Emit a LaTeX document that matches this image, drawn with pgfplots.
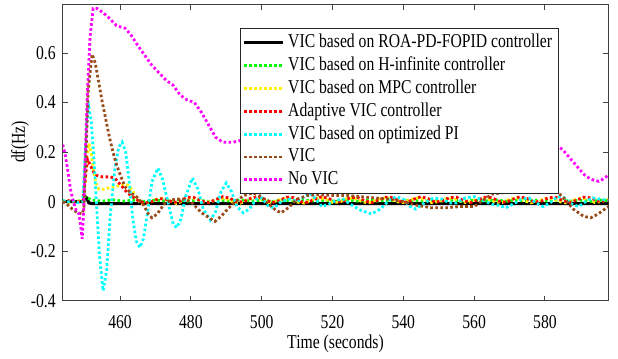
\documentclass[border=0pt]{standalone}
\usepackage{fontspec}
\setmainfont{Liberation Serif}[FakeStretch=0.8]
\usepackage{pgfplots}
\pgfplotsset{compat=1.18}
\definecolor{cgreen}{rgb}{0,1,0}
\definecolor{cyellow}{rgb}{1,0.95,0}
\definecolor{cred}{rgb}{1,0,0}
\definecolor{ccyan}{rgb}{0,1,1}
\definecolor{cbrown}{rgb}{0.6,0.29,0.1}
\definecolor{cmag}{rgb}{1,0,1}
\newcommand{\fs}{\fontsize{9.8}{11}\selectfont}
\begin{document}
\begin{tikzpicture}
\begin{axis}[name=ax,
  scale only axis, width=272.8pt, height=148pt,
  xmin=443.8, xmax=597.9, ymin=-0.4, ymax=0.795,
  xtick={460,480,500,520,540,560,580},
  xticklabels={460,480,500,520,540,560,580},
  ytick={-0.4,-0.2,0,0.2,0.4,0.6},
  yticklabels={{-0.4},{-0.2},{0},{0.2},{0.4},{0.6}},
  tick align=inside, major tick length=2.5pt,
  axis line style={black!75, line width=0.5pt},
  every tick/.style={black!75, line width=0.5pt},
  tick label style={font=\fs},
  xticklabel style={yshift=-4pt},
  xlabel={Time (seconds)}, ylabel={df(Hz)},
  label style={font=\fs},
  xlabel style={at={(axis description cs:0.5,-0.146)}, anchor=center},
  ylabel style={at={(axis description cs:-0.078,0.536)}, anchor=center},
  legend cell align=left,
  legend image code/.code={\draw[#1] (0cm,0cm) -- (0.67cm,0cm);},
  legend style={at={(axis description cs:0.3255,0.9224)}, anchor=north west,
    draw=black!85, line width=0.6pt, font=\fs, inner sep=1pt, row sep=-0.85pt},
  dotline/.style={line width=1.4pt, dash pattern=on 1.3pt off 1.2pt},
]
\addplot[black, line width=1.6pt] coordinates {
(443.8,0) (449.6,0) (450.0,0.018) (450.6,0.015) (451.2,-0.005) (452,-0.008) (597.9,-0.008)};
\addlegendentry{VIC based on ROA-PD-FOPID controller}
\addplot[cgreen, dotline] coordinates {
(443.8,0.003) (446,0.0) (448,0.004) (449.6,0.0) (450.2,0.022) (451,0.014) (452,0.006)
(455,0.002) (458,0.007) (461,0.002) (464,0.006) (467,0.001) (470,0.006) (473,0.002) (476,0.007)
(479,0.002) (482,0.006) (485,0.001) (488,0.006) (491,0.002) (494,0.007) (497,0.002) (500,0.006)
(503,0.001) (506,0.006) (509,0.002) (512,0.007) (515,0.002) (518,0.006) (521,0.001) (524,0.006)
(527,0.002) (530,0.007) (533,0.002) (536,0.006) (539,0.001) (542,0.006) (545,0.002) (548,0.007)
(551,0.002) (554,0.006) (557,0.001) (560,0.006) (563,0.002) (566,0.007) (569,0.002) (572,0.006)
(575,0.001) (578,0.006) (581,0.002) (584,0.007) (587,0.002) (590,0.006) (593,0.001) (596,0.006) (597.9,0.003)};
\addlegendentry{VIC based on H-infinite controller}
\addplot[cyellow, dotline] coordinates {
(443.8,0.002) (445.5,-0.004) (447.5,0.004) (449.5,-0.002) (450.2,0.08) (450.7,0.19) (451.2,0.235)
(451.8,0.2) (452.5,0.13) (453.2,0.075) (454,0.05) (455.5,0.05) (457,0.056) (458.5,0.06) (460,0.065)
(461.5,0.07) (462.5,0.065) (463.5,0.045) (464.5,0.02) (465.5,0.0) (466.5,-0.012) (468,-0.006)
(470,0.008) (472,0.014) (474,0.004) (476,-0.008) (478,0.004) (480,0.016) (482,0.01) (484,-0.004)
(486,0.002) (488,0.014) (490,0.012) (492,-0.002) (494,-0.006) (496,0.008) (498,0.015) (500,0.008)
(502,-0.004) (504,0.002) (506,0.013) (508,0.012) (510,-0.002) (512,-0.006) (514,0.006) (516,0.015)
(518,0.01) (520,-0.003) (522,-0.002) (524,0.012) (526,0.014) (528,0.002) (530,-0.006) (532,0.004)
(534,0.015) (536,0.012) (538,0.0) (540,-0.004) (542,0.008) (544,0.015) (546,0.008) (548,-0.004)
(550,0.0) (552,0.012) (554,0.014) (556,0.002) (558,-0.005) (560,0.005) (562,0.015) (564,0.011)
(566,-0.002) (568,-0.003) (570,0.01) (572,0.015) (574,0.005) (576,-0.005) (578,0.002) (580,0.013)
(582,0.013) (584,0.0) (586,-0.005) (588,0.006) (590,0.014) (592,0.009) (594,-0.003) (596,0.0) (597.9,0.01)};
\addlegendentry{VIC based on MPC controller}
\addplot[cred, dotline] coordinates {
(443.8,0.0) (445.5,0.004) (447.5,-0.003) (449.5,0.002) (450.2,0.1) (450.8,0.17) (451.5,0.15)
(452.5,0.12) (453.5,0.105) (455,0.1) (457,0.1) (458.5,0.095) (460,0.07) (461.5,0.045) (463,0.025)
(465,0.005) (467,-0.006) (469,0.0) (471,0.012) (473,0.01) (475,-0.004) (477,0.002) (479,0.018)
(481,0.016) (483,0.002) (485,-0.004) (487,0.008) (489,0.02) (491,0.014) (493,-0.002) (495,0.0)
(497,0.014) (499,0.02) (501,0.008) (503,-0.004) (505,0.004) (507,0.018) (509,0.016) (511,0.0)
(513,-0.003) (515,0.01) (517,0.02) (519,0.012) (521,-0.002) (523,0.002) (525,0.016) (527,0.018)
(529,0.004) (531,-0.004) (533,0.006) (535,0.018) (537,0.016) (539,0.002) (541,-0.003) (543,0.01)
(545,0.02) (547,0.012) (549,-0.002) (551,0.002) (553,0.016) (555,0.018) (557,0.004) (559,-0.004)
(561,0.006) (563,0.018) (565,0.016) (567,0.002) (569,-0.003) (571,0.01) (573,0.02) (575,0.012)
(577,-0.002) (579,0.002) (581,0.016) (583,0.018) (585,0.004) (587,-0.004) (589,0.006) (591,0.018)
(593,0.015) (595,0.002) (597.9,0.004)};
\addlegendentry{Adaptive VIC controller}
\addplot[ccyan, dotline] coordinates {
(443.8,0.005) (445,-0.003) (446.5,0.004) (448,-0.004) (449.5,0.0) (450.2,0.2) (450.8,0.35)
(451.2,0.38) (451.8,0.33) (452.5,0.2) (453.3,0.0) (454.2,-0.22) (455.2,-0.36) (456.2,-0.28)
(457.2,-0.06) (458.5,0.13) (459.6,0.22) (460.6,0.24) (461.6,0.2) (462.6,0.08) (463.6,-0.07)
(464.6,-0.16) (465.6,-0.185) (466.6,-0.15) (467.8,-0.04) (469,0.08) (470.7,0.135) (472,0.09)
(473.5,0.0) (475,-0.09) (476,-0.105) (477.2,-0.07) (478.5,0.02) (480.4,0.095) (482,0.05)
(483.5,-0.03) (485.5,-0.075) (487,-0.04) (488.5,0.04) (490,0.075) (491.5,0.04) (493,-0.02)
(494.8,-0.045) (496.5,-0.03) (498.5,0.01) (500,0.015) (502,-0.02) (503.5,-0.025) (505.5,0.0)
(508,0.01) (510,0.0) (512,0.02) (513.6,0.035) (515,0.015) (517,-0.02) (519,-0.01) (521,0.005)
(523,0.01) (525,-0.01) (528,-0.035) (531,-0.05) (533.5,-0.03) (536,0.005) (538,0.02) (540,0.01)
(542,-0.02) (543.5,-0.03) (546,-0.005) (548.5,0.015) (551,0.01) (553,-0.005) (555,-0.005)
(557.5,0.015) (560,0.02) (562.5,0.005) (565,-0.01) (567,-0.015) (569,-0.025) (571,-0.01)
(573.5,0.01) (575.5,0.015) (577.5,-0.005) (579.5,-0.02) (581.5,-0.005) (583.5,0.02) (585.5,0.015)
(587.5,-0.01) (589.5,-0.02) (591.5,0.0) (593.5,0.015) (595.5,0.01) (597.9,0.005)};
\addlegendentry{VIC based on optimized PI}
\addplot[cbrown, dotline] coordinates {
(443.8,0.0) (445,-0.01) (446.5,-0.03) (448,-0.045) (449.2,-0.05) (449.8,-0.03) (450.4,0.2)
(451,0.45) (452.1,0.595) (453,0.56) (454,0.48) (455,0.40) (456,0.33) (457,0.26) (458,0.2)
(459,0.15) (460,0.11) (461.4,0.06) (463,0.035) (465,0.015) (466.5,-0.01) (468,-0.05) (469,-0.065)
(470.5,-0.05) (472.7,-0.005) (475,0.008) (477.5,0.012) (480,0.0) (483,-0.045) (486.8,-0.08)
(488.5,-0.06) (490.4,-0.03) (492.5,0.0) (495,0.025) (497.5,0.035) (500,0.02) (502,-0.01)
(504,-0.035) (505.5,-0.045) (507.5,-0.025) (510,0.01) (513,0.025) (516,0.028) (520,0.025)
(524,0.025) (528,0.02) (532,0.015) (536,0.01) (540,0.0) (544,-0.015) (548,-0.025) (552,-0.025)
(556,-0.02) (560,-0.02) (563,0.01) (565,0.03) (570,0.04) (575,0.045) (579,0.045) (582.5,0.05)
(585,0.02) (588,-0.03) (591,-0.06) (593,-0.065) (595,-0.05) (597.9,-0.02)};
\addlegendentry{VIC}
\addplot[cmag, dotline] coordinates {
(443.8,0.23) (444.5,0.19) (445.3,0.12) (446,0.05) (446.8,0.0) (447.6,-0.035) (448.4,-0.05)
(448.9,-0.1) (449.3,-0.15) (449.7,-0.05) (450.2,0.2) (450.8,0.45) (451.5,0.66) (452.4,0.78)
(453.5,0.78) (455,0.765) (457,0.74) (459,0.71) (461.4,0.7) (463,0.675) (465,0.63) (467,0.59)
(469,0.55) (471,0.52) (473,0.49) (475,0.47) (477,0.43) (479,0.41) (481,0.40) (483,0.36)
(485,0.31) (487,0.26) (489,0.24) (492,0.24) (495,0.25) (500,0.27) (510,0.29) (520,0.3)
(530,0.29) (540,0.28) (550,0.27) (560,0.26) (570,0.255) (578,0.245) (582.5,0.235) (585,0.21)
(588,0.16) (591,0.11) (593,0.09) (595.2,0.082) (597,0.095) (597.9,0.11)};
\addlegendentry{No VIC}
\end{axis}
\pgfresetboundingbox
\path ([xshift=-31.35pt,yshift=-28.65pt]ax.south west) rectangle ([xshift=4.85pt,yshift=2.35pt]ax.north east);
\end{tikzpicture}
\end{document}
